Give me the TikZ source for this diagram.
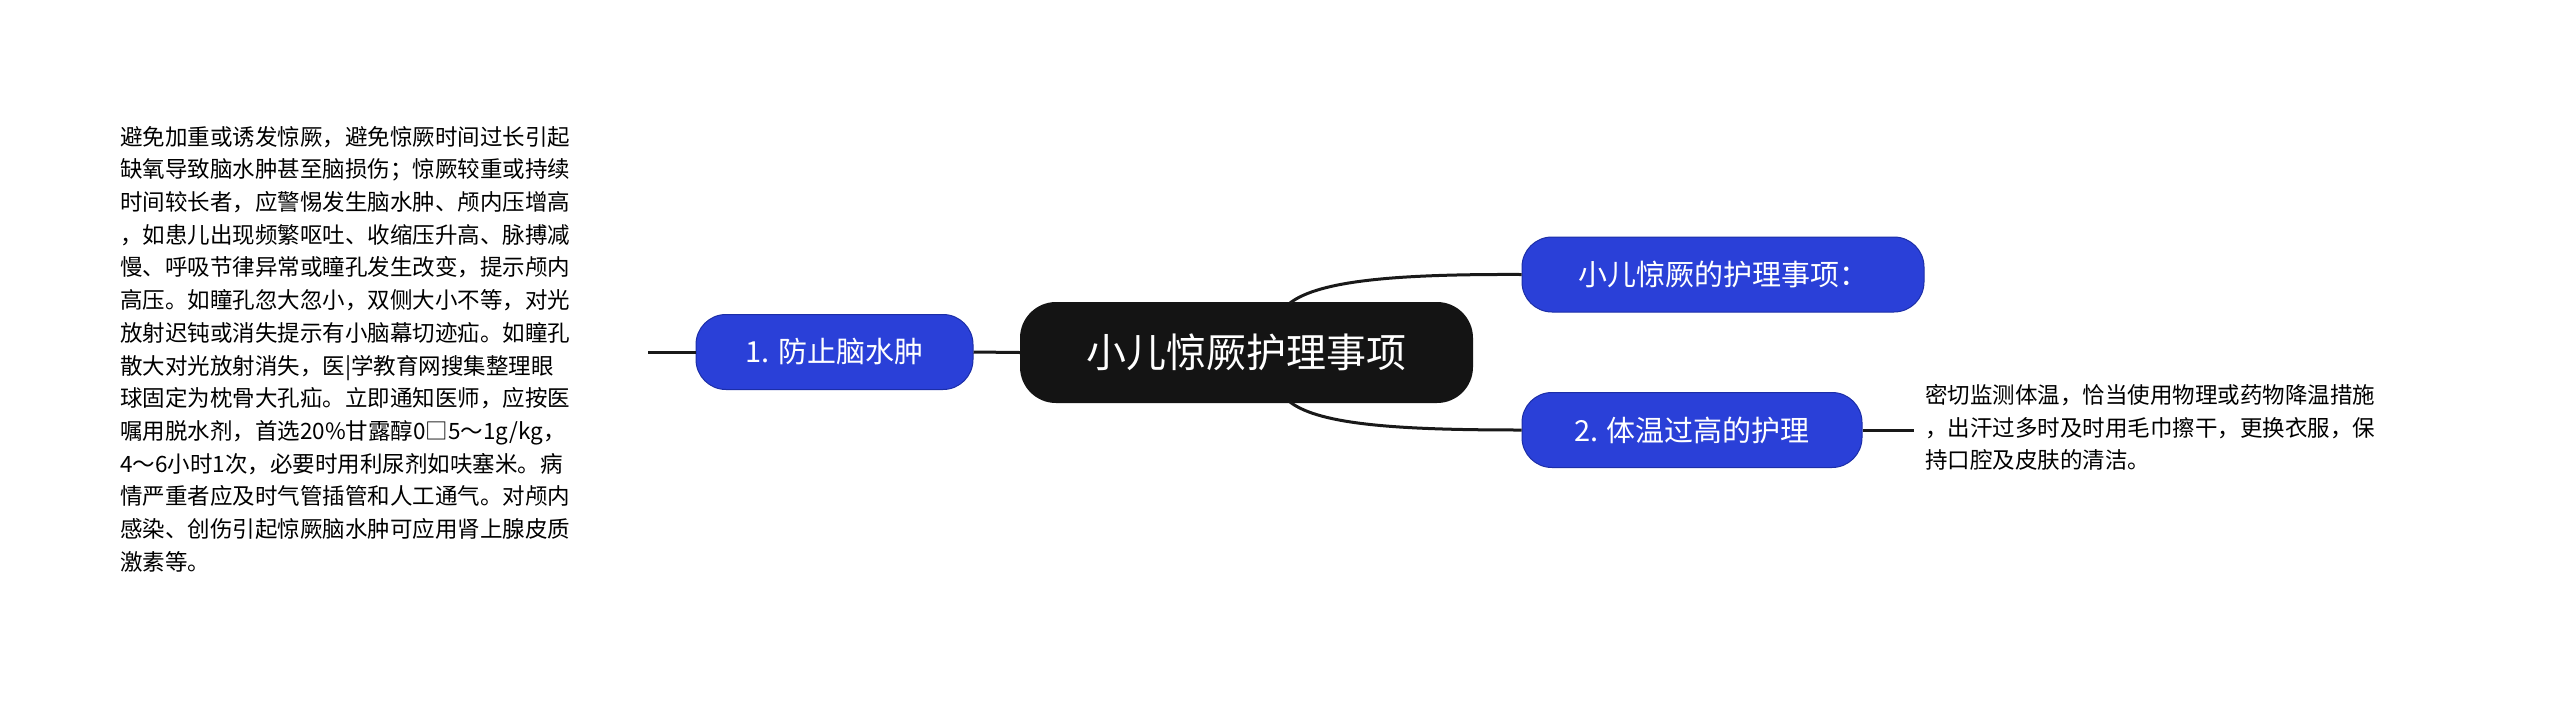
\documentclass[tikz,border=0pt]{standalone}
\usepackage{fontspec}
\setmainfont{Noto Sans CJK SC}
\begin{document}
\begin{tikzpicture}[x=1pt,y=-1pt,
  conn/.style={line width=3pt,draw=black!90},
  sub/.style={fill=blue!70!cyan!20!blue,fill=mmblue,draw=mmborder,line width=1pt,rounded corners=30pt,text=white,font=\fontsize{29}{34}\selectfont,inner sep=0pt,minimum height=75pt},
  leaf/.style={anchor=north west,align=left,inner sep=0pt,font=\fontsize{22.5}{32.7}\selectfont}]
\definecolor{mmblue}{HTML}{2A40D8}
\definecolor{mmborder}{HTML}{1C2EA8}
\fill[white] (0,0) rectangle (2560,705);
\useasboundingbox (0,0) rectangle (2560,705);
\node[fill=black!92,rounded corners=36pt,text=white,font=\fontsize{40}{46}\selectfont,minimum width=453pt,minimum height=101pt,inner sep=0pt] (c) at (1246.5,352.5) {小儿惊厥护理事项};
\node[sub,minimum width=277pt] (n1) at (834.5,352) {1. 防止脑水肿};
\node[sub,minimum width=402pt] (n2) at (1723,274.5) {小儿惊厥的护理事项：};
\node[sub,minimum width=340pt] (n3) at (1692,430) {2. 体温过高的护理};
\node[leaf,text width=530pt] (t1) at (120,126) {避免加重或诱发惊厥，避免惊厥时间过长引起\\缺氧导致脑水肿甚至脑损伤；惊厥较重或持续\\时间较长者，应警惕发生脑水肿、颅内压增高\\，如患儿出现频繁呕吐、收缩压升高、脉搏减\\慢、呼吸节律异常或瞳孔发生改变，提示颅内\\高压。如瞳孔忽大忽小，双侧大小不等，对光\\放射迟钝或消失提示有小脑幕切迹疝。如瞳孔\\散大对光放射消失，医|学教育网搜集整理眼\\球固定为枕骨大孔疝。立即通知医师，应按医\\嘱用脱水剂，首选20\%甘露醇0□5～1g/kg，\\4～6小时1次，必要时用利尿剂如呋塞米。病\\情严重者应及时气管插管和人工通气。对颅内\\感染、创伤引起惊厥脑水肿可应用肾上腺皮质\\激素等。};
\node[leaf,text width=530pt] (t2) at (1925,384) {密切监测体温，恰当使用物理或药物降温措施\\，出汗过多时及时用毛巾擦干，更换衣服，保\\持口腔及皮肤的清洁。};
\coordinate (t1e) at (648,352);
\coordinate (t2s) at (1914,430);
\draw[conn] (c.west) -- (n1.east);
\draw[conn] (t1e) -- (n1.west);
\draw[conn] (n3.east) -- (t2s);
\draw[conn] (1290,303) .. controls (1320,280) and (1400,274) .. (n2.west);
\draw[conn] (1290,402) .. controls (1320,425) and (1400,430) .. (n3.west);
\end{tikzpicture}
\end{document}
